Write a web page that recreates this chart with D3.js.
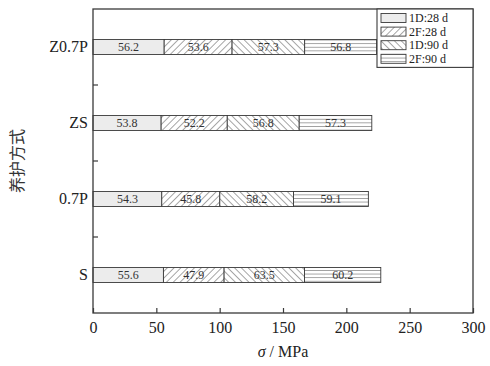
<!DOCTYPE html>
<html><head><meta charset="utf-8">
<script src="https://cdn.jsdelivr.net/npm/d3@7"></script>
<style>body{margin:0;background:#fff;} svg{display:block;}</style>
</head><body>
<script>
const categories = ["Z0.7P","ZS","0.7P","S"];
const seriesNames = ["1D:28 d","2F:28 d","1D:90 d","2F:90 d"];
const d1_28 = [56.2, 53.8, 54.3, 55.6];
const f2_28 = [53.6, 52.2, 45.8, 47.9];
const d1_90 = [57.3, 56.8, 58.2, 63.5];
const f2_90 = [56.8, 57.3, 59.1, 60.2];
const xTicks = [0,50,100,150,200,250,300];

const W=490,H=366;
const m={l:93,r:17,t:9,b:53};
const svg=d3.select("body").append("svg").attr("width",W).attr("height",H);
const defs=svg.append("defs");
const ink="#3a3a3a";
const SERIF='"Liberation Serif","Times New Roman","DejaVu Serif",serif';
function linePat(id,rot,w){
  const p=defs.append("pattern").attr("id",id).attr("patternUnits","userSpaceOnUse")
    .attr("width",w).attr("height",w).attr("patternTransform","rotate("+rot+")");
  p.append("rect").attr("width",w).attr("height",w).attr("fill","#fff");
  p.append("line").attr("x1",0).attr("y1",0).attr("x2",0).attr("y2",w)
    .attr("stroke",ink).attr("stroke-width",0.9);
}
linePat("p1",45,4.8);
linePat("p2",-45,4.8);
linePat("p3",90,3.6);
const fills=["#ececec","url(#p1)","url(#p2)","url(#p3)"];

const x=d3.scaleLinear().domain([0,300]).range([m.l,W-m.r]);
const y=d3.scaleBand().domain(categories).range([m.t,H-m.b]);
const bh=15;

const series=[d1_28,f2_28,d1_90,f2_90];
const g=svg.append("g");
categories.forEach((c,i)=>{
  let acc=0;
  series.forEach((s,k)=>{
    const v=s[i];
    const x0=x(acc), x1=x(acc+v);
    const yc=y(c)+y.bandwidth()/2;
    g.append("rect").attr("x",x0).attr("y",yc-bh/2).attr("width",x1-x0).attr("height",bh)
      .attr("fill",fills[k]).attr("stroke",ink).attr("stroke-width",0.9);
    g.append("text").attr("x",(x0+x1)/2).attr("y",yc+4).attr("text-anchor","middle")
      .style("font-family",SERIF).attr("font-size",12).attr("fill","#333")
      .text(v.toFixed(1));
    acc+=v;
  });
});

// frame
svg.append("rect").attr("x",m.l).attr("y",m.t).attr("width",W-m.r-m.l).attr("height",H-m.b-m.t)
  .attr("fill","none").attr("stroke",ink).attr("stroke-width",1.3);

// x axis
const xa=svg.append("g").attr("transform","translate(0,"+(H-m.b)+")")
  .call(d3.axisBottom(x).tickValues(xTicks).tickSizeInner(-5).tickSizeOuter(0).tickPadding(9));
xa.select(".domain").remove();
xa.selectAll("line").attr("stroke",ink).attr("stroke-width",1.2);
xa.selectAll("text").style("font-family",SERIF).attr("font-size",16).attr("fill","#222");

// y axis ticks at band boundaries
const ya=svg.append("g").attr("transform","translate("+m.l+",0)")
  .call(d3.axisLeft(y).tickSize(0).tickPadding(5));
ya.select(".domain").remove();
ya.selectAll("text").style("font-family",SERIF).attr("font-size",16).attr("fill","#222");
categories.slice(1).forEach(c=>{
  svg.append("line").attr("x1",m.l).attr("x2",m.l+5).attr("y1",y(c)).attr("y2",y(c))
    .attr("stroke",ink).attr("stroke-width",1.2);
});

// axis titles
const xt=svg.append("text").attr("x",(m.l+W-m.r)/2).attr("y",357).attr("text-anchor","middle")
  .style("font-family",SERIF).attr("font-size",16).attr("fill","#222");
xt.append("tspan").attr("font-style","italic").text("σ");
xt.append("tspan").text(" / MPa");
svg.append("text").attr("transform","translate(23,161) rotate(-90)").attr("text-anchor","middle")
  .style("font-family","'Noto Sans CJK SC'").attr("font-size",16).attr("fill","#333").text("养护方式");

// legend
const lx=377, ly=m.t, lw=W-m.r-lx, step=13.6;
svg.append("rect").attr("x",lx).attr("y",ly).attr("width",lw).attr("height",4*step+4)
  .attr("fill","#fff").attr("stroke",ink).attr("stroke-width",1.1);
seriesNames.forEach((n,k)=>{
  const yy=ly+2+k*step;
  svg.append("rect").attr("x",381).attr("y",yy+2.5).attr("width",25).attr("height",9)
    .attr("fill",fills[k]).attr("stroke",ink).attr("stroke-width",0.9);
  svg.append("text").attr("x",409).attr("y",yy+11).style("font-family",SERIF)
    .attr("font-size",12).attr("fill","#222").text(n);
});
</script>
</body></html>
